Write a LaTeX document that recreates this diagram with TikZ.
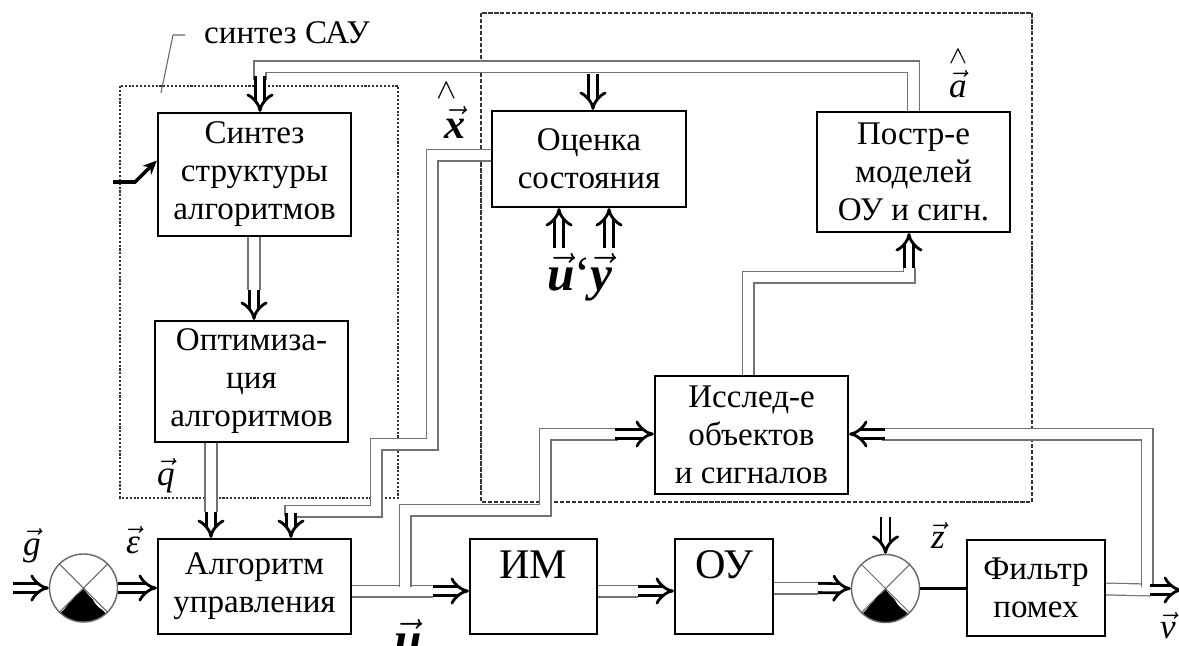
\documentclass[tikz,border=0pt]{standalone}
\usepackage{fontspec}
\setmainfont{Liberation Serif}
\usepackage{amsmath}
\usetikzlibrary{arrows.meta,positioning,calc}

\newcommand{\boxfont}{\fontsize{9.4}{10.8}\selectfont}
\newcommand{\bigfont}{\fontsize{12}{14}\selectfont}
\newcommand{\bvfont}{\fontsize{14}{16}\selectfont}
\newcommand{\ivec}[1]{$\vec{\text{\itshape #1}}$}
\newcommand{\bvec}[1]{$\vec{\text{\bfseries\itshape #1}}$}

\begin{document}
\begin{tikzpicture}[x=0.01cm,y=-0.01cm,
    blk/.style={draw,line width=0.6pt,align=center,inner sep=0pt,font=\boxfont},
    sumnode/.style={circle,draw=black!60,line width=0.4pt,minimum size=0.68cm,inner sep=0pt,
      path picture={
        \draw[black!60,line width=0.3pt] (path picture bounding box.north west) -- (path picture bounding box.south east)
          (path picture bounding box.north east) -- (path picture bounding box.south west);
        \fill[black,shift={(path picture bounding box.center)}] (0,1) -- (-4,5) -- (-8,8) -- (-11,12) -- (-15,16) -- (-19,21) -- (-23,25) -- (-23,40) -- (23,40) -- (23,26) -- (19,22) -- (16,20) -- (12,16) -- (9,11) -- (5,7) -- cycle;
      }},
    bus/.style={draw=black!55,line width=0.35pt,double=white,double distance=3pt},
    imp/.style={draw=black,line width=0.8pt,double=white,double distance=1.8pt,-{Implies}},
    lbl/.style={inner sep=0pt,anchor=base,font=\fontsize{10}{12}\selectfont}]
  \useasboundingbox (0,0) rectangle (1179,645);

  % frames
  \draw[black!80,line width=0.4pt,dash pattern=on 0.6pt off 0.5pt] (120,86) rectangle (398,498);
  \draw[black!80,line width=0.4pt,dash pattern=on 1.2pt off 0.5pt] (481,13) rectangle (1032,502);
  \node[lbl,font=\boxfont] (sau) at (287,43) {синтез САУ};
  \coordinate (sauA) at (185,35);
  \coordinate (sauB) at (173,35);
  \coordinate (sauC) at (161,93);
  \draw[black!60,line width=0.3pt] (sauA) -- (sauB) -- (sauC);

  % blocks
  \node[blk,minimum width=1.93cm,minimum height=1.23cm] (synth) at (254.5,174.5) {Синтез\\структуры\\алгоритмов};
  \node[blk,minimum width=1.93cm,minimum height=1.21cm] (optim) at (251.5,381.5) {Оптимиза-\\ция\\алгоритмов};
  \node[blk,minimum width=1.93cm,minimum height=0.95cm] (algo) at (254.5,586.5) {Алгоритм\\управления};
  \node[blk,minimum width=1.27cm,minimum height=0.95cm,font=\bigfont,text height=0.28cm,text depth=0.45cm] (im) at (533.5,586.5) {ИМ};
  \node[blk,minimum width=0.98cm,minimum height=0.95cm,font=\bigfont,text height=0.28cm,text depth=0.45cm] (ou) at (724,586.5) {ОУ};
  \node[blk,minimum width=1.38cm,minimum height=0.96cm] (filt) at (1036,588) {Фильтр\\помех};
  \node[blk,minimum width=1.94cm,minimum height=0.96cm] (est) at (589,159) {Оценка\\состояния};
  \node[blk,minimum width=1.93cm,minimum height=1.20cm] (model) at (913.5,172) {Постр-е\\моделей\\ОУ и сигн.};
  \node[blk,minimum width=1.93cm,minimum height=1.18cm] (expl) at (751.5,435) {Исслед-е\\объектов\\и сигналов};
  \node[sumnode] (s1) at (83.5,588) {};
  \node[sumnode] (s2) at (885.5,588.5) {};

  % free ends and bends
  \coordinate (tA) at (260,76);
  \coordinate (tB) at (593,74);
  \coordinate (tC) at (291,513);
  \coordinate (tD) at (211,512);
  \coordinate (tE) at (254,290);
  \coordinate (tF) at (433,591);
  \coordinate (tG) at (615,434);
  \coordinate (tH) at (638,591);
  \coordinate (tI) at (818,588);
  \coordinate (tJ) at (1147,589);
  \coordinate (tK) at (885,434);
  \coordinate (tM) at (909,268);
  \coordinate (tN) at (748,277);
  \coordinate (tOut) at (1150,590);
  \coordinate (vOut) at (1182,590);
  \coordinate (uIn) at (559,248);
  \coordinate (yIn) at (609,248);
  \coordinate (zIn) at (885.5,517);
  \coordinate (gIn) at (13,588);
  \coordinate (ctlIn) at (113,182);

  % buses
  \draw[bus] (model.north) -- ++(0,-44) -| (260,80);
  \draw[imp] (tA) -- (tA |- synth.north);
  \draw[imp] (tB) -- (tB |- est.north);
  \draw[bus] ($(est.west)+(0,-4)$) -| (432,444) -| (376,511) -| (291,516);
  \draw[imp] (tC) -- (tC |- algo.north);
  \draw[bus] (optim.south -| tD) -- (tD);
  \draw[imp] (tD) -- (tD |- algo.north);
  \draw[bus] (synth.south -| tE) -- (tE);
  \draw[imp] (tE) -- (tE |- optim.north);
  \draw[bus] (algo.east |- tF) -- (tF);
  \draw[bus] (405,587) |- (545,510) |- (618,434);
  \draw[imp] (tF) -- (tF -| im.west);
  \draw[imp] (tG) -- (tG -| expl.west);
  \draw[bus] (im.east |- tH) -- (tH);
  \draw[imp] (tH) -- (tH -| ou.west);
  \draw[bus] (ou.east |- tI) -- (tI);
  \draw[imp] (tI) -- (s2.west);
  \draw[bus] (filt.east |- tJ) -- (tOut);
  \draw[bus] ($(tJ)+(0,-2)$) |- (882,434);
  \draw[imp] (tK) -- (tK -| expl.east);
  \draw[imp] (tOut) -- (vOut);
  \draw[bus] (expl.north -| tN) -- (tN) -| (tM);
  \draw[imp] (tM) -- (tM |- model.south);

  % inputs
  \draw[imp] (uIn) -- (uIn |- est.south);
  \draw[imp] (yIn) -- (yIn |- est.south);
  \draw[imp] (zIn) -- (s2.north);
  \draw[imp] (gIn) -- (s1.west);
  \draw[imp] (s1.east) -- (s1.east -| algo.west);
  \draw[line width=0.6pt] (s2.east) -- (s2.east -| filt.west);
  \draw[line width=1pt,-{Stealth[length=4pt,width=3.5pt]}] (ctlIn) -- ++(22,0) -- ($(synth.west)+(0,-14)$);

  % labels
  \node[lbl] (gLbl) at (32,555) {\ivec{g}};
  \node[lbl] (eLbl) at (133,553) {\ivec{ε}};
  \node[lbl] (qLbl) at (166,485) {\ivec{q}};
  \node[lbl] (zLbl) at (938,548) {\ivec{z}};
  \node[lbl] (vLbl) at (1168,638) {\ivec{v}};
  \node[lbl] (aLbl) at (958,97) {$\overset{\wedge}{\vec{\text{\itshape a}}}$};
  \node[lbl,font=\fontsize{12}{14}\selectfont] (xLbl) at (455,138) {$\overset{\wedge\hspace{5pt}}{\vec{\text{\bfseries\itshape x}}}$};
  \node[lbl,font=\bvfont] (uyLbl) at (580,290) {\bvec{u}\char"60\bvec{y}};
  \node[lbl,font=\bvfont] (uLbl) at (408,656) {\bvec{u}};
\end{tikzpicture}
\end{document}
